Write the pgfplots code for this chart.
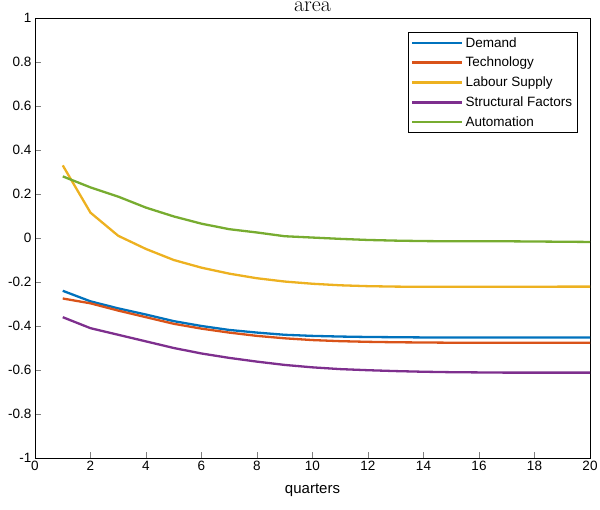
\documentclass[border=0pt]{standalone}
\usepackage{pgfplots}
\pgfplotsset{compat=1.18}
\usepackage{fontspec}
\setmainfont{Liberation Sans}
\newfontfamily\lmr{Latin Modern Roman}
\definecolor{c1}{rgb}{0,0.447,0.741}
\definecolor{c2}{rgb}{0.85,0.325,0.098}
\definecolor{c3}{rgb}{0.929,0.694,0.125}
\definecolor{c4}{rgb}{0.494,0.184,0.556}
\definecolor{c5}{rgb}{0.466,0.674,0.188}
\begin{document}
\begin{tikzpicture}
\begin{axis}[at={(0pt,0pt)}, anchor=south west, scale only axis, width=555pt, height=440pt,
 xmin=0, xmax=20, ymin=-1, ymax=1, xtick={0,2,...,20}, ytick={-1,-0.8,...,1},
 /pgf/number format/assume math mode=true, ticklabel style={font=\fontsize{13.5}{15}\selectfont},
 yticklabel style={/pgf/number format/fixed,/pgf/number format/precision=1},
 tick align=inside, xtick pos=bottom, ytick pos=left, major tick length=6pt,
 xlabel={quarters}, xlabel style={font=\fontsize{15}{17}\selectfont, yshift=-6pt},
 title={\lmr area}, title style={font=\fontsize{22}{24}\selectfont, yshift=-3pt},
 legend cell align=left, legend style={at={(0.977,0.968)}, anchor=north east, font=\fontsize{13.5}{15}\selectfont, draw=black, row sep=4.5pt, inner sep=3pt},
 legend image code/.code={\draw[#1, line width=2.6pt] (0pt,0pt) -- (50pt,0pt);},
 every axis plot/.append style={line width=2.3pt}]
\addplot[c1] coordinates {(1,-0.24)(2,-0.288)(3,-0.32)(4,-0.348)(5,-0.378)(6,-0.40)(7,-0.418)(8,-0.43)(9,-0.44)(10,-0.445)(11,-0.448)(12,-0.45)(13,-0.451)(14,-0.452)(15,-0.452)(16,-0.452)(17,-0.452)(18,-0.452)(19,-0.452)(20,-0.452)};
\addlegendentry{Demand}
\addplot[c2] coordinates {(1,-0.275)(2,-0.297)(3,-0.33)(4,-0.36)(5,-0.39)(6,-0.412)(7,-0.43)(8,-0.445)(9,-0.456)(10,-0.464)(11,-0.469)(12,-0.472)(13,-0.474)(14,-0.475)(15,-0.476)(16,-0.476)(17,-0.476)(18,-0.476)(19,-0.476)(20,-0.476)};
\addlegendentry{Technology}
\addplot[c3] coordinates {(1,0.33)(2,0.115)(3,0.01)(4,-0.05)(5,-0.10)(6,-0.135)(7,-0.162)(8,-0.183)(9,-0.198)(10,-0.208)(11,-0.215)(12,-0.219)(13,-0.221)(14,-0.222)(15,-0.222)(16,-0.222)(17,-0.222)(18,-0.222)(19,-0.221)(20,-0.221)};
\addlegendentry{Labour Supply}
\addplot[c4] coordinates {(1,-0.36)(2,-0.41)(3,-0.44)(4,-0.47)(5,-0.50)(6,-0.525)(7,-0.545)(8,-0.562)(9,-0.577)(10,-0.588)(11,-0.596)(12,-0.601)(13,-0.605)(14,-0.608)(15,-0.61)(16,-0.611)(17,-0.612)(18,-0.612)(19,-0.612)(20,-0.612)};
\addlegendentry{Structural Factors}
\addplot[c5] coordinates {(1,0.28)(2,0.23)(3,0.188)(4,0.138)(5,0.098)(6,0.065)(7,0.04)(8,0.025)(9,0.008)(10,0.002)(11,-0.004)(12,-0.009)(13,-0.012)(14,-0.014)(15,-0.015)(16,-0.015)(17,-0.015)(18,-0.016)(19,-0.017)(20,-0.018)};
\addlegendentry{Automation}
\end{axis}
\pgfresetboundingbox
\path (-35pt,-52pt) rectangle (565pt,458pt);
\end{tikzpicture}
\end{document}
